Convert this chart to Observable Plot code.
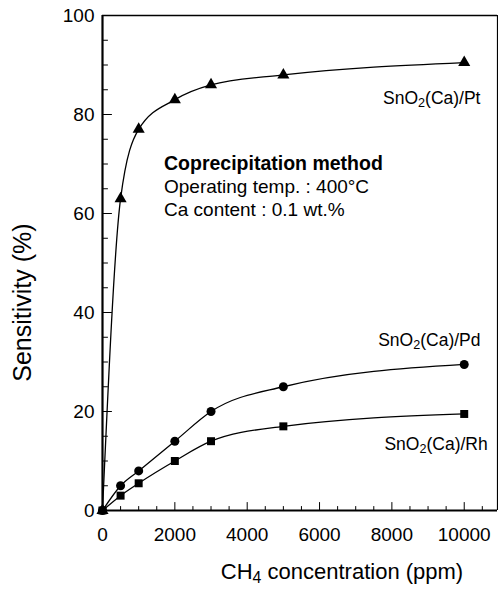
<!DOCTYPE html>
<html>
<head>
<meta charset="utf-8">
<script src="https://cdn.jsdelivr.net/npm/d3@7"></script>
<script src="https://cdn.jsdelivr.net/npm/@observablehq/plot@0.6"></script>
<style>
  html, body { margin: 0; padding: 0; background: #fff; }
  svg { font-family: "Liberation Sans", Arial, sans-serif; }
</style>
</head>
<body>
<div id="chart"></div>
<script>
// Data
const concentration = [0, 500, 1000, 2000, 3000, 5000, 10000];
const sensPt = [0, 63, 77, 83, 86, 88, 90.5];
const sensPd = [0, 5, 8, 14, 20, 25, 29.5];
const sensRh = [0, 3, 5.5, 10, 14, 17, 19.5];
const xTicks = [0, 2000, 4000, 6000, 8000, 10000];
const xMinor = [500, 1000, 1500, 2500, 3000, 3500, 4500, 5000, 5500, 6500, 7000, 7500, 8500, 9000, 9500, 10500];
const yTicks = [0, 20, 40, 60, 80, 100];
const yMinor = [5, 10, 15, 25, 30, 35, 45, 50, 55, 65, 70, 75, 85, 90, 95];
const seriesLabels = [
  {text: "SnO2(Ca)/Pt", x: 10450, y: 83.3},
  {text: "SnO2(Ca)/Pd", x: 10450, y: 34.3},
  {text: "SnO2(Ca)/Rh", x: 10650, y: 13.3}
];
const titleLine = [{text: "Coprecipitation method", x: 1700, y: 70}];
const noteLines = [
  {text: "Operating temp. : 400°C", x: 1700, y: 65.3},
  {text: "Ca content : 0.1 wt.%", x: 1700, y: 60.7}
];
const yTitle = [{text: "Sensitivity (%)", y: 42}];

const mk = (ys, name) => concentration.map((c, i) => ({x: c, y: ys[i], s: name}));
const pt = mk(sensPt, "Pt"), pd = mk(sensPd, "Pd"), rh = mk(sensRh, "Rh");

const tickShape = {draw(ctx, l) { ctx.moveTo(0, 0); ctx.lineTo(0, -l); }};

const chart = Plot.plot({
  width: 498,
  height: 597,
  marginLeft: 102,
  marginRight: 1,
  marginTop: 15,
  marginBottom: 87,
  x: {domain: [0, 10920], axis: null},
  y: {domain: [0, 100], axis: null},
  style: {fontFamily: "'Liberation Sans', Arial, sans-serif", color: "black", background: "white"},
  marks: [
    // frame
    Plot.ruleX([0], {stroke: "black", strokeWidth: 2.2}),
    Plot.ruleX([10920], {stroke: "black", strokeWidth: 1.2}),
    Plot.ruleY([0], {stroke: "black", strokeWidth: 2.2}),
    Plot.ruleY([100], {stroke: "black", strokeWidth: 1.6}),
    // inward ticks
    Plot.vector(yTicks, {x: 0, y: d => d, length: 9, rotate: 90, anchor: "start", shape: tickShape, stroke: "black", strokeWidth: 1}),
    Plot.vector(yMinor, {x: 0, y: d => d, length: 5, rotate: 90, anchor: "start", shape: tickShape, stroke: "black", strokeWidth: 1}),
    Plot.vector(xTicks, {x: d => d, y: 0, length: 8, rotate: 0, anchor: "start", shape: tickShape, stroke: "black", strokeWidth: 1}),
    Plot.vector(xMinor, {x: d => d, y: 0, length: 4, rotate: 0, anchor: "start", shape: tickShape, stroke: "black", strokeWidth: 1}),
    // tick labels
    Plot.text(yTicks, {x: 0, y: d => d, text: d => String(d), textAnchor: "end", dx: -8, fontSize: 19}),
    Plot.text(xTicks, {x: d => d, y: 0, text: d => String(d), dy: 24, fontSize: 19}),
    // axis titles
    Plot.text(yTitle, {x: 0, y: "y", text: "text", rotate: -90, dx: -80, fontSize: 25}),
    Plot.text(["CH4 concentration (ppm)"], {frameAnchor: "bottom", dx: 42, dy: 68, fontSize: 22}),
    // lines
    Plot.line(pt, {x: "x", y: "y", curve: "monotone-x", stroke: "black", strokeWidth: 1.3}),
    Plot.line(pd, {x: "x", y: "y", curve: "monotone-x", stroke: "black", strokeWidth: 1.3}),
    Plot.line(rh, {x: "x", y: "y", curve: "monotone-x", stroke: "black", strokeWidth: 1.3}),
    // markers
    Plot.dot(pt, {x: "x", y: "y", symbol: "triangle", r: 4.5, fill: "black"}),
    Plot.dot(pd, {x: "x", y: "y", symbol: "circle", r: 4.5, fill: "black"}),
    Plot.dot(rh, {x: "x", y: "y", symbol: "square", r: 4.5, fill: "black"}),
    // labels
    Plot.text(seriesLabels, {x: "x", y: "y", text: "text", textAnchor: "end", fontSize: 17.5}),
    Plot.text(titleLine, {x: "x", y: "y", text: "text", textAnchor: "start", fontSize: 19.5, fontWeight: "bold"}),
    Plot.text(noteLines, {x: "x", y: "y", text: "text", textAnchor: "start", fontSize: 19})
  ]
});

// subscripts
d3.select(chart).selectAll("text").each(function() {
  const t = this.textContent;
  const m = t.match(/^(SnO|CH)([24])(.*)$/);
  if (!m) return;
  const sel = d3.select(this);
  sel.text(null);
  sel.append("tspan").text(m[1]);
  sel.append("tspan").attr("baseline-shift", "-25%").attr("font-size", "0.72em").text(m[2]);
  sel.append("tspan").text(m[3]);
});

document.getElementById("chart").appendChild(chart);
</script>
</body>
</html>
